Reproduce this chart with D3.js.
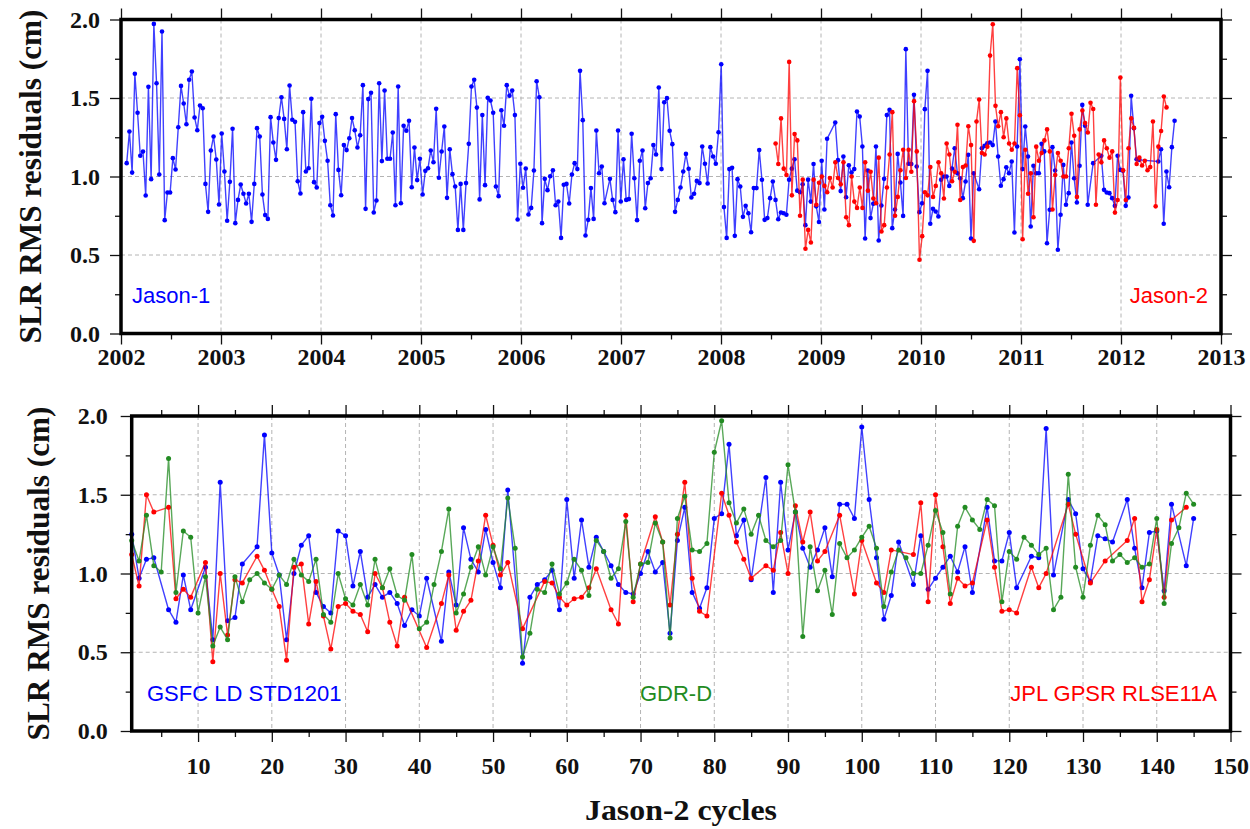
<!DOCTYPE html>
<html>
<head>
<meta charset="utf-8">
<script src="https://cdn.jsdelivr.net/npm/d3@7"></script>
<style>
  body { margin: 0; background: #fff; }
  .tick text { font-family: "Liberation Serif", "Times New Roman", serif; font-weight: bold; fill: #111; }
</style>
</head>
<body>
<svg id="chart" width="1250" height="829"></svg>
<script>
// ---------------------------------------------------------------------------
// Data
// ---------------------------------------------------------------------------
const CYCLE_DAYS = 9.9156;          // repeat period of the Jason ground track
const JASON1_FIRST = 2002.057;      // decimal year of the first Jason-1 cycle
const JASON2_FIRST = 2008.546;      // decimal year of Jason-2 cycle 1

// Jason-1 SLR RMS residuals (cm), one value per cycle, null = no solution
const jason1Rms = [
  1.085,1.287,1.025,1.654,1.406,1.132,1.159,0.879,1.571,0.983,
  1.972,1.594,1.013,1.924,0.722,0.898,0.898,1.117,1.045,1.314,
  1.577,1.465,1.333,1.616,1.669,1.376,1.295,1.452,1.435,0.953,
  0.775,1.166,1.255,1.108,0.822,1.274,1.032,0.718,0.966,1.304,
  0.703,0.851,0.949,0.890,0.828,0.890,0.711,0.953,1.308,1.255,
  0.885,0.754,0.730,1.378,1.217,1.106,1.372,1.505,1.367,1.174,
  1.580,1.361,1.348,0.970,0.892,1.410,1.032,1.053,1.495,0.964,
  0.930,1.340,1.380,1.227,1.100,0.817,0.752,1.397,1.042,0.881,
  1.200,1.168,1.244,1.372,1.295,1.185,1.263,1.582,0.794,1.493,
  1.533,0.771,0.847,1.594,1.098,1.548,1.113,1.113,1.280,0.817,
  1.573,0.830,1.323,1.291,1.355,0.932,1.185,0.977,1.113,0.885,
  1.036,1.053,1.166,1.091,1.431,0.992,1.159,1.318,0.864,1.174,
  1.015,0.936,0.660,0.953,0.660,0.958,1.208,1.573,1.616,1.439,
  0.854,1.391,0.945,1.501,1.484,1.406,0.936,0.875,1.422,1.323,
  1.582,1.514,1.548,1.391,0.726,1.081,0.928,1.051,0.758,0.800,
  1.038,1.607,1.505,0.703,0.985,0.913,1.002,1.040,0.817,0.841,
  0.609,0.947,0.953,0.828,1.013,1.085,1.047,1.673,1.359,0.624,
  0.724,0.926,0.730,1.293,1.021,1.064,0.830,null,0.985,0.851,
  0.773,1.293,0.841,1.110,0.851,0.856,1.272,0.989,0.722,1.100,
  1.166,0.798,0.958,0.989,1.200,1.140,1.567,1.047,1.473,1.499,
  1.291,1.206,0.775,0.851,0.930,1.032,1.144,1.049,0.866,0.890,
  0.972,0.958,1.191,1.081,0.955,1.187,1.127,1.081,1.282,1.715,
  0.805,0.609,1.047,1.055,0.622,0.983,0.936,0.743,0.813,0.766,
  0.645,0.926,0.926,1.168,0.979,0.724,0.735,0.862,0.968,0.851,
  0.728,0.771,0.766,0.756,0.980,1.050,1.110,0.910,0.900,0.950,
  0.690,0.980,0.840,1.080,0.810,0.710,1.100,0.790,1.240,null,
  null,1.344,1.104,0.907,1.127,0.868,1.072,1.025,1.047,1.414,
  1.382,1.191,0.605,1.038,0.735,0.826,1.191,0.592,0.815,0.985,
  1.391,1.425,0.671,0.790,1.144,0.962,0.749,1.811,1.081,1.080,
  1.520,1.064,0.773,0.830,1.429,1.673,0.699,0.794,0.777,0.745,
  0.980,1.000,1.000,0.940,1.050,1.180,1.020,0.989,0.862,0.968,
  1.138,0.605,1.021,null,0.919,1.180,1.195,1.212,1.217,1.200,
  1.350,1.127,0.941,0.983,1.059,1.021,1.096,0.643,1.191,1.747,
  1.047,1.318,1.127,0.682,1.068,1.021,1.021,1.208,1.160,0.575,
  0.788,1.187,1.038,0.533,0.756,1.074,0.820,0.894,1.217,0.989,
  0.834,1.068,1.456,1.323,0.820,null,1.085,null,null,1.132,
  0.915,0.898,0.894,0.862,0.813,1.132,1.042,1.036,0.813,0.866,
  1.514,1.308,1.110,1.106,null,null,null,null,null,null,
  1.096,1.174,0.699,1.032,0.932,1.187,1.355
];

// Jason-2 cycles 1..145, SLR RMS residuals (cm) of three orbit solutions
const gsfcStd1201 = [
  1.25,0.97,1.09,1.10,null,0.77,0.69,0.99,0.77,null,
  1.04,0.58,1.58,0.70,0.72,1.06,null,1.17,1.88,1.13,
  0.99,0.58,1.00,1.18,1.24,0.88,0.79,0.75,1.27,1.24,
  0.92,1.14,0.85,0.93,0.85,0.88,0.81,0.67,0.77,0.73,
  0.97,null,0.57,1.01,0.80,1.29,1.09,1.01,1.28,1.07,
  0.91,1.53,null,0.43,0.85,0.93,0.96,1.02,0.77,1.47,
  0.97,1.34,1.04,1.23,1.14,1.05,0.93,0.88,0.87,1.00,
  1.14,1.01,1.07,0.62,1.21,1.42,0.88,0.78,0.91,1.35,
  1.38,1.82,1.24,1.34,0.96,null,1.61,0.88,1.58,1.15,
  1.39,1.16,1.04,1.15,1.29,0.98,1.44,1.44,1.35,1.93,
  1.47,1.10,0.71,0.86,1.20,null,0.93,1.24,0.90,0.97,
  1.04,1.11,1.01,1.17,0.88,null,1.42,1.08,1.08,1.26,
  0.91,null,1.11,1.10,1.92,0.99,null,1.47,1.38,1.03,
  0.95,1.24,1.22,1.20,null,1.47,1.16,0.91,1.26,1.27,
  0.89,1.44,null,1.05,1.35
];
const gdrD = [
  1.21,1.08,1.37,1.05,1.01,1.73,0.88,1.27,1.23,0.75,
  0.98,0.54,0.66,0.58,0.98,0.82,0.96,1.00,0.94,0.90,
  0.99,0.93,1.09,0.99,0.95,1.09,0.74,0.69,1.00,0.84,
  0.80,0.93,0.80,1.09,0.91,1.03,0.86,0.83,1.12,0.65,
  0.69,0.93,1.14,1.41,0.75,0.87,1.04,1.17,0.99,1.17,
  1.03,1.48,1.16,0.47,0.62,0.90,0.88,1.06,0.87,0.94,
  1.09,1.02,0.86,1.21,1.14,0.97,1.03,1.33,0.85,1.06,
  1.07,1.32,1.20,0.59,1.35,1.49,1.15,1.14,1.19,1.77,
  1.97,1.45,1.32,1.41,1.25,1.37,1.21,1.17,1.21,1.69,
  1.39,0.60,1.17,0.89,1.02,0.74,1.19,1.10,1.15,1.23,
  1.30,1.16,0.79,1.01,1.15,1.10,1.00,1.00,1.18,1.40,
  1.26,0.87,1.30,1.42,1.34,1.28,1.47,1.43,0.82,1.14,
  1.09,1.23,1.18,1.12,1.16,0.77,0.85,1.63,1.04,0.85,
  1.18,1.37,1.31,1.08,1.12,1.07,1.10,1.04,1.06,1.35,
  0.81,1.19,1.29,1.51,1.44
];
const jplRlse11a = [
  1.12,0.92,1.50,1.39,null,1.42,0.84,0.90,0.85,null,
  1.07,0.44,1.00,0.61,0.96,0.94,null,1.11,1.02,0.90,
  0.79,0.45,1.04,1.06,0.68,0.95,0.73,0.52,0.79,0.81,
  0.76,0.74,0.63,1.00,0.91,0.69,0.54,0.85,null,null,
  0.53,null,0.81,0.99,0.64,0.76,0.83,1.08,1.37,1.18,
  0.99,1.07,null,0.65,null,null,0.95,0.94,0.85,0.80,
  0.84,0.85,0.91,1.03,null,0.77,0.68,1.37,0.82,1.06,
  null,1.36,1.20,0.80,1.25,1.58,0.97,0.76,0.73,null,
  1.51,1.37,1.20,1.09,0.97,null,1.05,1.02,1.26,1.00,
  1.43,1.20,1.39,1.08,1.14,null,1.37,null,0.87,1.21,
  null,0.94,0.88,1.15,null,null,1.12,1.45,0.82,1.50,
  1.17,0.81,0.97,0.92,0.94,null,1.34,1.04,0.76,0.77,
  0.75,null,1.04,0.91,1.00,null,null,1.44,1.25,null,
  0.94,null,1.08,null,null,1.21,1.35,0.82,0.96,1.28,
  0.85,1.34,null,1.42,null
];

const yearTicks = d3.range(2002, 2014);
const cycleTicks = d3.range(10, 151, 10);
const rmsTicks = [0, 0.5, 1.0, 1.5, 2.0];

// ---------------------------------------------------------------------------
// Drawing
// ---------------------------------------------------------------------------
const BLUE = "#0000ff", RED = "#ff0000", GREEN = "#228b22";
const svg = d3.select("#chart");

const toPoints = (values, xOf) =>
  values.map((v, i) => ({ x: xOf(i), v })).filter(d => d.v !== null);

function drawPanel(cfg) {
  const { left, right, top, bottom } = cfg;
  const x = d3.scaleLinear().domain(cfg.xDomain).range([left, right]);
  const y = d3.scaleLinear().domain([0, 2]).range([bottom, top]);
  const g = svg.append("g");

  // dashed grid
  const grid = g.append("g").attr("stroke", "#b4b4b4").attr("stroke-width", 1)
    .attr("stroke-dasharray", "4,3");
  grid.selectAll(".gx").data(cfg.gridX).join("line")
    .attr("x1", d => x(d)).attr("x2", d => x(d)).attr("y1", top).attr("y2", bottom);
  grid.selectAll(".gy").data([0.5, 1.0, 1.5]).join("line")
    .attr("x1", left).attr("x2", right).attr("y1", d => y(d)).attr("y2", d => y(d));

  // series
  const line = d3.line().x(d => x(d.x)).y(d => y(d.v));
  cfg.series.forEach(s => {
    const pts = toPoints(s.values, s.xOf);
    const sg = g.append("g");
    sg.append("path").datum(pts).attr("d", line).attr("fill", "none")
      .attr("stroke", s.color).attr("stroke-width", 1.4).attr("stroke-opacity", 0.75)
      .attr("stroke-linejoin", "round");
    sg.selectAll("circle").data(pts).join("circle")
      .attr("cx", d => x(d.x)).attr("cy", d => y(d.v)).attr("r", cfg.r)
      .attr("fill", s.color);
  });

  // axes with outward ticks on all four sides
  const style = sel => {
    sel.select(".domain").remove();
    sel.selectAll(".tick line").attr("stroke", "#111").attr("stroke-width", 1.3);
    sel.selectAll(".tick text").attr("font-size", 24);
  };
  const minorX = cfg.minorX, majorX = cfg.majorX;
  g.append("g").attr("transform", `translate(0,${bottom})`)
    .call(d3.axisBottom(x).tickValues(majorX).tickSize(11).tickPadding(cfg.xPad)
      .tickFormat(cfg.xFormat)).call(style);
  g.append("g").attr("transform", `translate(0,${bottom})`)
    .call(d3.axisBottom(x).tickValues(minorX).tickSize(6).tickFormat("")).call(style);
  g.append("g").attr("transform", `translate(0,${top})`)
    .call(d3.axisTop(x).tickValues(majorX).tickSize(11).tickFormat("")).call(style);
  g.append("g").attr("transform", `translate(0,${top})`)
    .call(d3.axisTop(x).tickValues(minorX).tickSize(6).tickFormat("")).call(style);
  g.append("g").attr("transform", `translate(${left},0)`)
    .call(d3.axisLeft(y).tickValues(rmsTicks).tickSize(11).tickPadding(cfg.yPad)
      .tickFormat(d3.format(".1f"))).call(style);
  g.append("g").attr("transform", `translate(${left},0)`)
    .call(d3.axisLeft(y).tickValues([0.25, 0.75, 1.25, 1.75]).tickSize(6).tickFormat("")).call(style);
  g.append("g").attr("transform", `translate(${right},0)`)
    .call(d3.axisRight(y).tickValues(rmsTicks).tickSize(11).tickFormat("")).call(style);
  g.append("g").attr("transform", `translate(${right},0)`)
    .call(d3.axisRight(y).tickValues([0.25, 0.75, 1.25, 1.75]).tickSize(6).tickFormat("")).call(style);

  // frame
  g.append("rect").attr("x", left).attr("y", top)
    .attr("width", right - left).attr("height", bottom - top)
    .attr("fill", "none").attr("stroke", "#000").attr("stroke-width", 3.5);

  // y-axis title
  g.append("text")
    .attr("transform", `translate(${cfg.titleX},${(top + bottom) / 2}) rotate(-90)`)
    .attr("text-anchor", "middle")
    .attr("font-family", "Liberation Serif, Times New Roman, serif")
    .attr("font-weight", "bold").attr("font-size", 31).attr("fill", "#111")
    .attr("textLength", 334).attr("lengthAdjust", "spacingAndGlyphs")
    .text("SLR RMS residuals (cm)");

  // series names
  cfg.labels.forEach(l => {
    g.append("text").attr("x", l.x).attr("y", l.y).attr("text-anchor", l.anchor)
      .attr("font-family", "Liberation Sans, Arial, sans-serif")
      .attr("font-size", 22).attr("fill", l.color).text(l.text);
  });
  return { x, y };
}

const jason1Year = i => JASON1_FIRST + i * CYCLE_DAYS / 365.25;
const jason2Year = i => JASON2_FIRST + i * CYCLE_DAYS / 365.25;
const cycleNo = i => i + 1;

// Upper panel: residuals against time
drawPanel({
  left: 121, right: 1221, top: 19.5, bottom: 333.5,
  xDomain: [2002, 2013], r: 2.3,
  majorX: yearTicks, minorX: d3.range(2002.5, 2013, 1),
  gridX: yearTicks.slice(1, -1), xPad: 3, yPad: 10,
  xFormat: d3.format("d"), titleX: 41,
  series: [
    { values: jason1Rms, xOf: jason1Year, color: BLUE },
    { values: gdrD, xOf: jason2Year, color: RED }
  ],
  labels: [
    { text: "Jason-1", x: 132, y: 303, anchor: "start", color: BLUE },
    { text: "Jason-2", x: 1208, y: 303, anchor: "end", color: RED }
  ]
});

// Lower panel: the three Jason-2 solutions against cycle number
drawPanel({
  left: 131.7, right: 1230.5, top: 416, bottom: 731,
  xDomain: [1, 150], r: 2.5,
  majorX: cycleTicks, minorX: d3.range(5, 150, 10),
  gridX: cycleTicks.slice(0, -1), xPad: 15, yPad: 13,
  xFormat: d3.format("d"), titleX: 49,
  series: [
    { values: gsfcStd1201, xOf: cycleNo, color: BLUE },
    { values: jplRlse11a, xOf: cycleNo, color: RED },
    { values: gdrD, xOf: cycleNo, color: GREEN }
  ],
  labels: [
    { text: "GSFC LD STD1201", x: 147, y: 701, anchor: "start", color: BLUE },
    { text: "GDR-D", x: 676, y: 701, anchor: "middle", color: GREEN },
    { text: "JPL GPSR RLSE11A", x: 1217, y: 701, anchor: "end", color: RED }
  ]
});

svg.append("text").attr("x", 681).attr("y", 820).attr("text-anchor", "middle")
  .attr("font-family", "Liberation Serif, Times New Roman, serif")
  .attr("font-weight", "bold").attr("font-size", 29).attr("fill", "#111")
  .attr("textLength", 192).attr("lengthAdjust", "spacingAndGlyphs")
  .text("Jason-2 cycles");
</script>
</body>
</html>
